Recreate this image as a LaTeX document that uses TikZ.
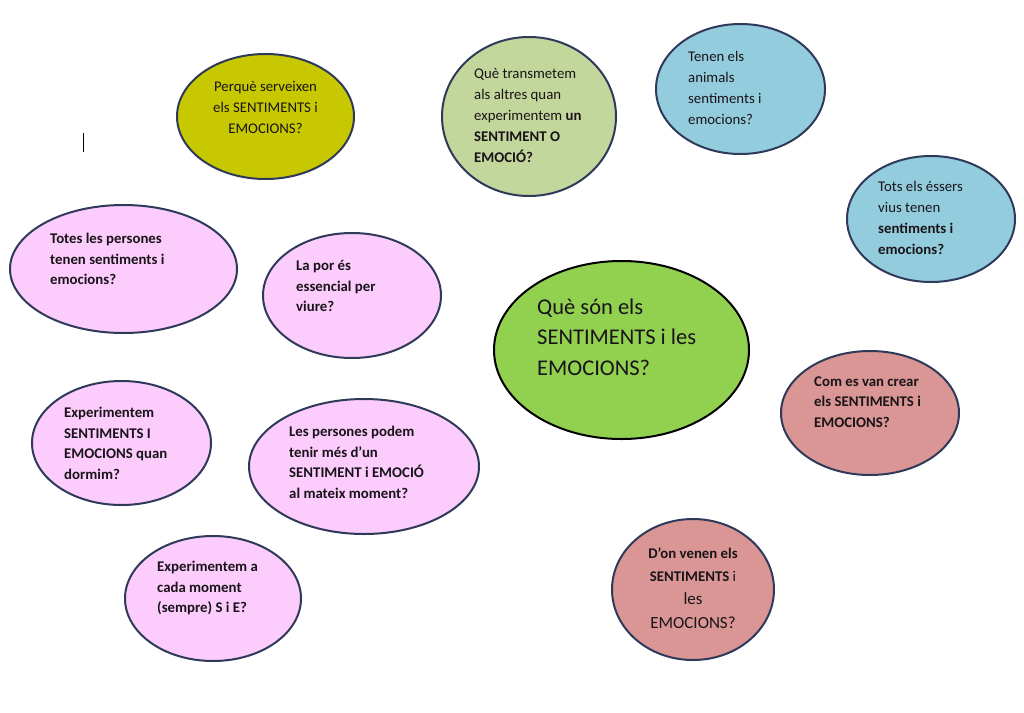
\documentclass[tikz,border=0pt]{standalone}
\usepackage{fontspec}
\setmainfont{Carlito}
\usetikzlibrary{shapes.geometric}
\definecolor{olive}{RGB}{200,200,0}
\definecolor{sage}{RGB}{195,214,155}
\definecolor{skyb}{RGB}{147,205,221}
\definecolor{pinkf}{RGB}{252,204,252}
\definecolor{lime}{RGB}{146,208,80}
\definecolor{rose}{RGB}{217,150,148}
\definecolor{edgec}{RGB}{47,58,90}
\definecolor{txt}{RGB}{25,20,25}
\tikzset{
  bubble/.style={ellipse, draw=edgec, line width=2pt, inner sep=0pt},
  qtext/.style={anchor=west, inner sep=0pt, align=left, text=txt, font=\fontsize{14.8}{21}\selectfont},
  btext/.style={anchor=west, inner sep=0pt, align=left, text=txt, font=\fontsize{14.8}{20.5}\selectfont\bfseries},
}
\begin{document}
\begin{tikzpicture}[x=1pt,y=-1pt]
\fill[white] (0,0) rectangle (1024,712);
\useasboundingbox (0,0) rectangle (1024,712);
% bubbles
\node[bubble, fill=olive, minimum width=177, minimum height=125] (e1) at (265.5,116.5) {};
\node[bubble, fill=sage, minimum width=174, minimum height=159] (e2) at (529,116.5) {};
\node[bubble, fill=skyb, minimum width=169, minimum height=130] (e3) at (740.5,89) {};
\node[bubble, fill=skyb, minimum width=168, minimum height=126] (e4) at (931,219) {};
\node[bubble, fill=pinkf, minimum width=227, minimum height=128] (e5) at (123.5,269) {};
\node[bubble, fill=pinkf, minimum width=178, minimum height=125] (e6) at (352,295.5) {};
\node[bubble, fill=lime, draw=black, minimum width=255, minimum height=178] (e7) at (621.5,350) {};
\node[bubble, fill=pinkf, minimum width=179, minimum height=124] (e8) at (121.5,443) {};
\node[bubble, fill=pinkf, minimum width=230, minimum height=135] (e9) at (364,466.5) {};
\node[bubble, fill=pinkf, minimum width=176, minimum height=125] (e10) at (213,598.5) {};
\node[bubble, fill=rose, minimum width=178, minimum height=124] (e11) at (870,413) {};
\node[bubble, fill=rose, minimum width=162, minimum height=141] (e12) at (693,589.5) {};
% texts
\node[qtext, anchor=center, align=center] (t1) at (265.5,107) {Perquè serveixen\\els SENTIMENTS i\\EMOCIONS?};
\node[qtext] (t2) at (474,115) {Què transmetem\\als altres quan\\experimentem \textbf{un}\\\textbf{SENTIMENT O}\\\textbf{EMOCIÓ?}};
\node[qtext] (t3) at (688,88) {Tenen els\\animals\\sentiments i\\emocions?};
\node[qtext] (t4) at (878,217.5) {Tots els éssers\\vius tenen\\\textbf{sentiments i}\\\textbf{emocions?}};
\node[btext] (t5) at (50,259) {Totes les persones\\tenen sentiments i\\emocions?};
\node[btext] (t6) at (296,286) {La por és\\essencial per\\viure?};
\node[anchor=west, inner sep=0pt, align=left, text=txt, font=\fontsize{22.5}{30.5}\selectfont] (t7) at (537,337) {Què són els\\SENTIMENTS i les\\EMOCIONS?};
\node[btext] (t8) at (64,443.5) {Experimentem\\SENTIMENTS I\\EMOCIONS quan\\dormim?};
\node[btext] (t9) at (289,462.5) {Les persones podem\\tenir més d’un\\SENTIMENT i EMOCIÓ\\al mateix moment?};
\node[btext] (t10) at (157,588) {Experimentem a\\cada moment\\(sempre) S i E?};
\node[btext] (t11) at (814,402) {Com es van crear\\els SENTIMENTS i\\EMOCIONS?};
\node[anchor=center, inner sep=0pt, align=center, text=txt, font=\fontsize{14.8}{23.3}\selectfont] (t12) at (693,588) {\textbf{D’on venen els}\\\textbf{SENTIMENTS} i\\{\fontsize{17}{23.3}\selectfont les}\\{\fontsize{17}{23.3}\selectfont EMOCIONS?}};
% stray cursor mark
\draw[line width=1.6pt, black] (83.5,133) -- (83.5,152);
\end{tikzpicture}
\end{document}
